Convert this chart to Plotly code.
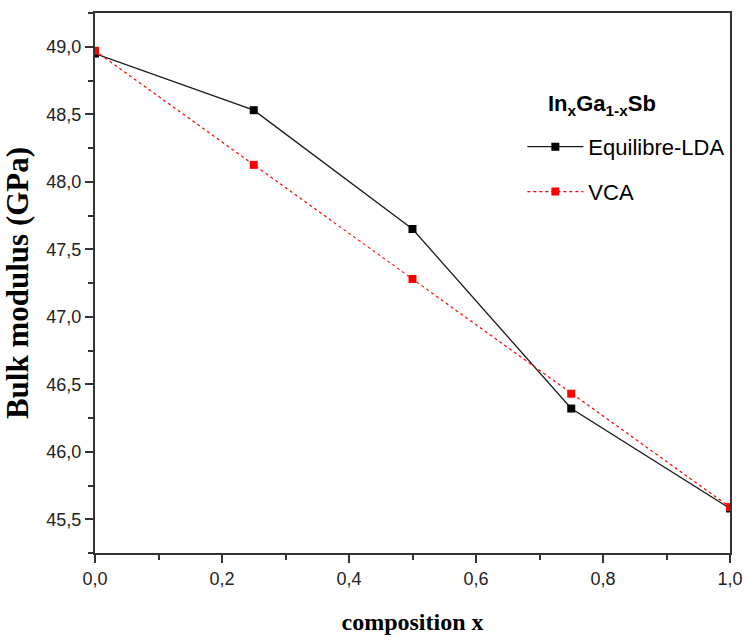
import plotly.graph_objects as go

composition = [0.0, 0.25, 0.5, 0.75, 1.0]
equilibre_lda = [48.95, 48.53, 47.65, 46.32, 45.58]
vca = [48.97, 48.125, 47.28, 46.43, 45.59]

x_ticks = [0.0, 0.2, 0.4, 0.6, 0.8, 1.0]
x_tick_labels = ["0,0", "0,2", "0,4", "0,6", "0,8", "1,0"]
y_ticks = [45.5, 46.0, 46.5, 47.0, 47.5, 48.0, 48.5, 49.0]
y_tick_labels = ["45,5", "46,0", "46,5", "47,0", "47,5", "48,0", "48,5", "49,0"]

SANS = "Liberation Sans, Arial, sans-serif"
SERIF = "Liberation Serif, Times New Roman, serif"

fig = go.Figure()
fig.add_trace(go.Scatter(
    x=composition, y=equilibre_lda, mode="lines+markers", name="Equilibre-LDA",
    line=dict(color="#1a1a1a", width=1.3),
    marker=dict(symbol="square", size=8, color="#000000"),
    legend="legend",
))
fig.add_trace(go.Scatter(
    x=composition, y=vca, mode="lines+markers", name="VCA",
    line=dict(color="#ff0000", width=1.2, dash="3px,3px"),
    marker=dict(symbol="square", size=8, color="#ff0000"),
    legend="legend2",
))

axis_common = dict(
    showline=True, linecolor="#333333", linewidth=2, mirror=True,
    ticks="outside", ticklen=8, tickwidth=1.5, tickcolor="#333333",
    showgrid=False, zeroline=False, automargin=False,
    ticklabeloverflow="allow",
    tickfont=dict(family=SANS, size=18, color="#222222"),
)

fig.update_xaxes(
    range=[0, 1.0], tickvals=x_ticks, ticktext=x_tick_labels,
    minor=dict(dtick=0.1, ticks="outside", ticklen=5, tickwidth=1.5, tickcolor="#333333"),
    title=dict(text="<b>composition x</b>", font=dict(family=SERIF, size=24, color="#000000"),
               standoff=26),
    **axis_common,
)
fig.update_yaxes(
    range=[45.25, 49.25], tickvals=y_ticks, ticktext=y_tick_labels,
    minor=dict(dtick=0.25, tick0=45.25, ticks="outside", ticklen=5, tickwidth=1.5, tickcolor="#333333"),
    title=dict(text="<b>Bulk modulus (GPa)</b>", font=dict(family=SERIF, size=31, color="#000000"),
               standoff=10),
    **axis_common,
)

leg_common = dict(
    font=dict(family=SANS, size=22, color="#000000"),
    bgcolor="rgba(0,0,0,0)", borderwidth=0, itemwidth=56,
    xanchor="left", yanchor="middle", x=0.673,
)

fig.update_layout(
    width=744, height=644,
    margin=dict(l=95, r=14, t=13, b=91),
    paper_bgcolor="white", plot_bgcolor="white",
    showlegend=True,
    legend=dict(y=0.752, **leg_common),
    legend2=dict(y=0.669, **leg_common),
    annotations=[dict(
        text="<b>In<sub>x</sub>Ga<sub>1-x</sub>Sb</b>",
        xref="paper", yref="paper", x=0.711, y=0.83,
        xanchor="left", yanchor="middle", showarrow=False,
        font=dict(family=SANS, size=22, color="#000000"),
    )],
)

fig.write_html("out.html")
